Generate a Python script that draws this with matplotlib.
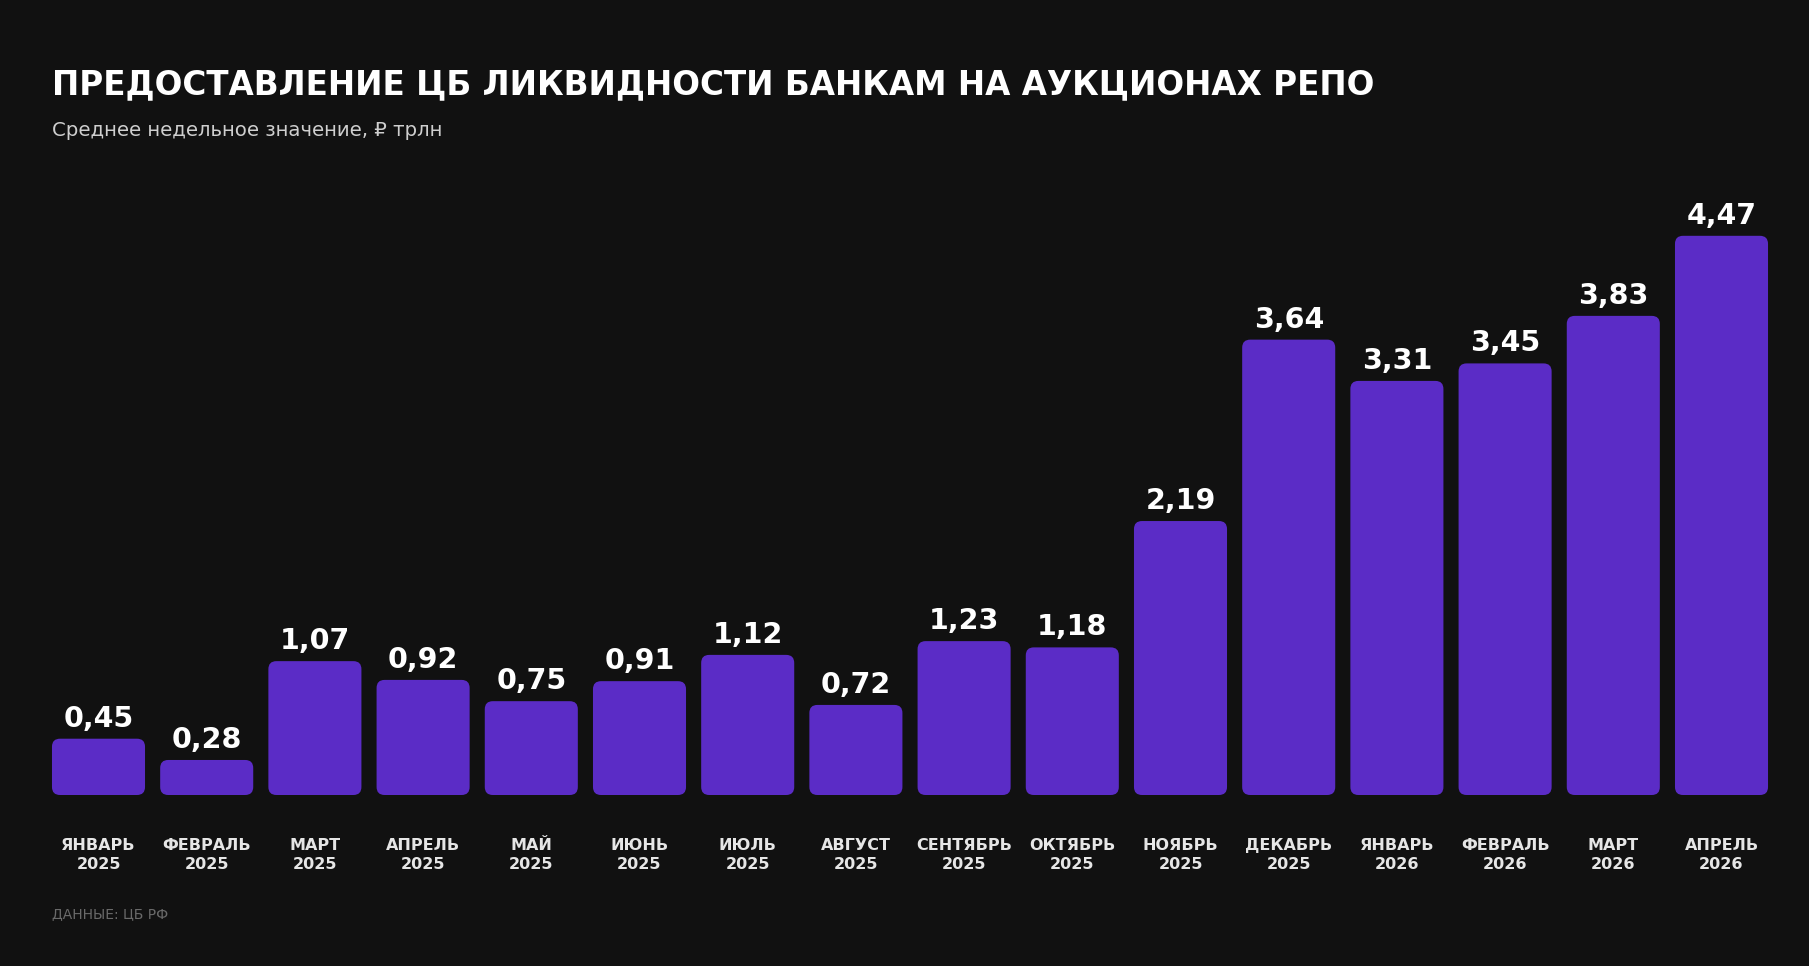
import matplotlib
matplotlib.use("Agg")
import matplotlib.pyplot as plt
from matplotlib.patches import FancyBboxPatch

months = ["ЯНВАРЬ", "ФЕВРАЛЬ", "МАРТ", "АПРЕЛЬ", "МАЙ", "ИЮНЬ", "ИЮЛЬ", "АВГУСТ",
          "СЕНТЯБРЬ", "ОКТЯБРЬ", "НОЯБРЬ", "ДЕКАБРЬ", "ЯНВАРЬ", "ФЕВРАЛЬ", "МАРТ", "АПРЕЛЬ"]
years = ["2025"] * 12 + ["2026"] * 4
values = [0.45, 0.28, 1.07, 0.92, 0.75, 0.91, 1.12, 0.72,
          1.23, 1.18, 2.19, 3.64, 3.31, 3.45, 3.83, 4.47]

bg = "#111111"
bar_color = "#5B2CC6"

W, H = 1809, 966
fig = plt.figure(figsize=(W / 100, H / 100), dpi=100, facecolor=bg)

# axes placed so bar baseline sits at y=795px, ~125 px per unit
ppu = 125.1
ax_left, ax_right = 44.4, 1775.6
ax_bottom = H - 795
ax_top = ax_bottom + 5 * ppu
ax = fig.add_axes([ax_left / W, ax_bottom / H, (ax_right - ax_left) / W, (ax_top - ax_bottom) / H])
ax.set_facecolor(bg)
ax.set_xlim(-0.5, len(values) - 0.5)
ax.set_ylim(0, 5)
ax.axis("off")

x = list(range(len(values)))
bars = ax.bar(x, values, width=0.86, color=bar_color)

# swap plain bars for rounded ones
rx = 8 / 108.2
ry = 8 / ppu
for b in bars:
    bx, by, bw, bh = b.get_x(), b.get_y(), b.get_width(), b.get_height()
    b.remove()
    p = FancyBboxPatch((bx, by), bw, bh,
                       boxstyle="round,pad=0,rounding_size=%f" % rx,
                       mutation_aspect=ry / rx,
                       facecolor=bar_color, edgecolor="none")
    ax.add_patch(p)

for xi, v in zip(x, values):
    ax.annotate(("%.2f" % v).replace(".", ","), (xi, v), xytext=(0, 6),
                textcoords="offset pixels", ha="center", va="bottom",
                color="white", fontsize=20.5, fontweight="bold",
                family=["DejaVu Sans"])

for xi, m, y in zip(x, months, years):
    ax.annotate(m + "\n" + y, (xi, 0), xytext=(0, -43), textcoords="offset pixels",
                ha="center", va="top", color="#e6e6e6", fontsize=11.5,
                fontweight="bold", family=["DejaVu Sans"], linespacing=1.3)

fig.text(52 / W, 1 - 68 / H, "ПРЕДОСТАВЛЕНИЕ ЦБ ЛИКВИДНОСТИ БАНКАМ НА АУКЦИОНАХ РЕПО",
         ha="left", va="top", color="white", fontsize=23.5, fontweight="bold",
         family=["DejaVu Sans"])
fig.text(52 / W, 1 - 121 / H, "Среднее недельное значение, ₽ трлн",
         ha="left", va="top", color="#cfcfcf", fontsize=14.2,
         family=["DejaVu Sans"])
fig.text(52 / W, 1 - 907 / H, "ДАННЫЕ: ЦБ РФ", ha="left", va="top",
         color="#6a6a6a", fontsize=10, family=["DejaVu Sans"])

fig.savefig("out.png", dpi=100, facecolor=bg)
